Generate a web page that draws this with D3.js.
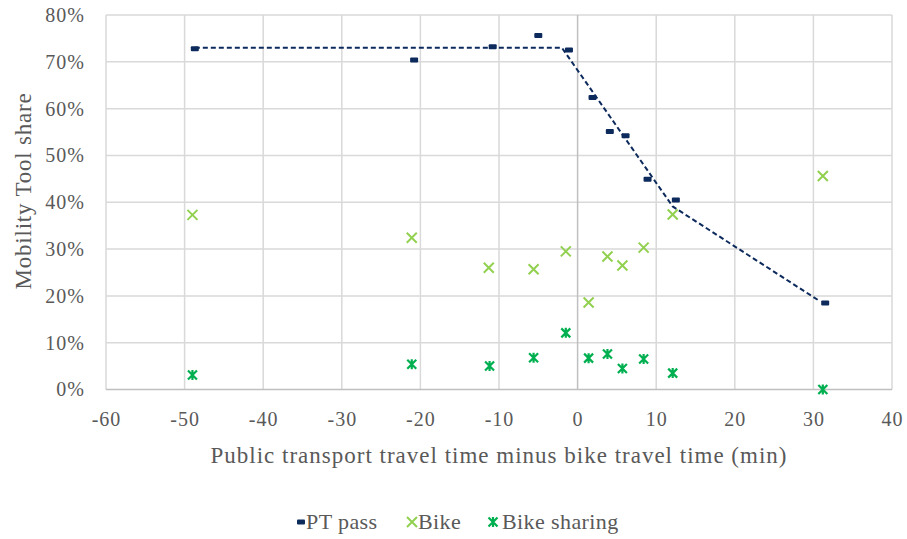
<!DOCTYPE html>
<html><head><meta charset="utf-8">
<script src="https://cdn.jsdelivr.net/npm/d3@7"></script>
<style>
body{margin:0;background:#fff;}
svg text{font-family:"Liberation Serif","DejaVu Serif",serif;fill:#595959;}
</style></head>
<body><svg id="c" width="907" height="539"></svg>
<script>
const xTicks = [-60,-50,-40,-30,-20,-10,0,10,20,30,40];
const yTicks = [0,0.1,0.2,0.3,0.4,0.5,0.6,0.7,0.8];

const ptX = [-48.7,-20.8,-10.8,-5.0,-1.1,1.9,4.1,6.1,8.9,12.5,31.5];
const ptY = [0.728,0.704,0.732,0.756,0.725,0.624,0.551,0.542,0.449,0.405,0.185];

const bikeX = [-49.0,-21.1,-11.3,-5.6,-1.5,1.4,3.8,5.7,8.4,12.1,31.2];
const bikeY = [0.373,0.324,0.260,0.257,0.295,0.186,0.284,0.265,0.303,0.374,0.456];

const shareX = [-49.0,-21.1,-11.2,-5.6,-1.5,1.4,3.8,5.7,8.4,12.1,31.2];
const shareY = [0.031,0.054,0.050,0.068,0.121,0.067,0.076,0.045,0.065,0.035,0.000];

const trendX = [-48.7,-2.0,12.1,30.6];
const trendY = [0.730,0.730,0.391,0.191];

const seriesNames = ["PT pass","Bike","Bike sharing"];
const colors = {pt:"#0d2a5c", bike:"#92d050", share:"#00b050"};
const FONT = "Liberation Serif";

const svg = d3.select("#c");
const x = d3.scaleLinear().domain([-60,40]).range([106,892]);
const y = d3.scaleLinear().domain([0,0.8]).range([389.5,15]);

// gridlines
svg.append("g").selectAll("line").data(xTicks.filter(d=>d!==0)).join("line")
  .attr("x1",d=>x(d)).attr("x2",d=>x(d)).attr("y1",y(0)).attr("y2",y(0.8))
  .attr("stroke","#d9d9d9").attr("stroke-width",1.5);
svg.append("g").selectAll("line").data(yTicks.filter(d=>d!==0)).join("line")
  .attr("x1",x(-60)).attr("x2",x(40)).attr("y1",d=>y(d)).attr("y2",d=>y(d))
  .attr("stroke","#d9d9d9").attr("stroke-width",1.5);
// axis lines
svg.append("line").attr("x1",x(-60)).attr("x2",x(40)).attr("y1",y(0)).attr("y2",y(0))
  .attr("stroke","#bfbfbf").attr("stroke-width",1.5);
svg.append("line").attr("x1",x(0)).attr("x2",x(0)).attr("y1",y(0)).attr("y2",y(0.8))
  .attr("stroke","#bfbfbf").attr("stroke-width",1.5);

// axes (labels only)
const xAxis = svg.append("g").attr("transform",`translate(0,${y(0)})`)
  .call(d3.axisBottom(x).tickValues(xTicks).tickSize(0).tickPadding(22).tickFormat(d=>String(d)));
xAxis.attr("font-family",FONT).attr("font-size",20);
xAxis.select(".domain").remove();
xAxis.selectAll("text").attr("fill","#595959").style("letter-spacing","1px");

const yAxis = svg.append("g").attr("transform",`translate(${x(-60)},0)`)
  .call(d3.axisLeft(y).tickValues(yTicks).tickSize(0).tickPadding(21).tickFormat(d3.format(".0%")));
yAxis.attr("font-family",FONT).attr("font-size",20);
yAxis.select(".domain").remove();
yAxis.selectAll("text").attr("fill","#595959").style("letter-spacing","1px");

// titles
svg.append("text").attr("x",499).attr("y",463).attr("text-anchor","middle")
  .attr("font-size",23).style("letter-spacing","1px")
  .text("Public transport travel time minus bike travel time (min)");
svg.append("text").attr("transform","translate(31,191) rotate(-90)").attr("text-anchor","middle")
  .attr("font-size",23).style("letter-spacing","0.8px").text("Mobility Tool share");

// trend line
const line = d3.line().x(d=>x(d[0])).y(d=>y(d[1]));
svg.append("path").datum(trendX.map((d,i)=>[d,trendY[i]])).attr("d",line)
  .attr("fill","none").attr("stroke",colors.pt).attr("stroke-width",2).attr("stroke-dasharray","5,3");

// markers
function dash(g,cx,cy){g.append("rect").attr("x",cx-4).attr("y",cy-2.5).attr("width",8).attr("height",5).attr("rx",1).attr("fill",colors.pt);}
function cross(g,cx,cy,c){const s=5;g.append("path").attr("d",`M${cx-s},${cy-s}L${cx+s},${cy+s}M${cx-s},${cy+s}L${cx+s},${cy-s}`).attr("stroke",c).attr("stroke-width",2).attr("fill","none");}
function star(g,cx,cy,c){const s=4.5;g.append("path").attr("d",`M${cx-s},${cy-s}L${cx+s},${cy+s}M${cx-s},${cy+s}L${cx+s},${cy-s}M${cx},${cy-s-0.5}L${cx},${cy+s+0.5}`).attr("stroke",c).attr("stroke-width",2.2).attr("fill","none");}

const gm = svg.append("g");
ptX.forEach((d,i)=>dash(gm,x(d),y(ptY[i])));
bikeX.forEach((d,i)=>cross(gm,x(d),y(bikeY[i]),colors.bike));
shareX.forEach((d,i)=>star(gm,x(d),y(shareY[i]),colors.share));

// legend
const lg = svg.append("g");
const ly = 522;
dash(lg,301,ly);
lg.append("text").attr("x",306).attr("y",ly+7).attr("font-size",22).style("letter-spacing","0.4px").text(seriesNames[0]);
cross(lg,412,ly,colors.bike);
lg.append("text").attr("x",418).attr("y",ly+7).attr("font-size",22).style("letter-spacing","0.4px").text(seriesNames[1]);
star(lg,493,ly,colors.share);
lg.append("text").attr("x",502).attr("y",ly+7).attr("font-size",22).style("letter-spacing","0.4px").text(seriesNames[2]);
</script></body></html>
